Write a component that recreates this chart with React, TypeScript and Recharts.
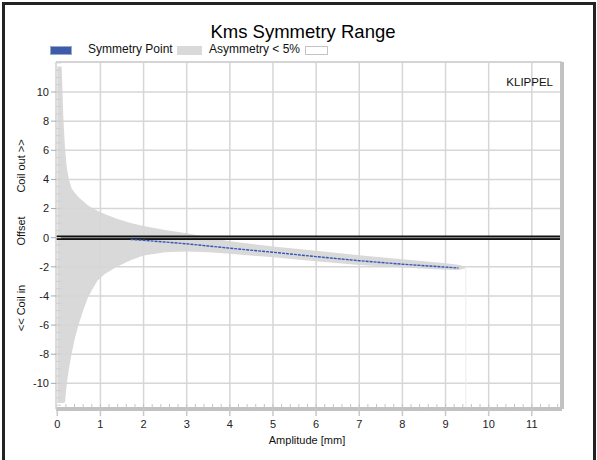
import React from 'react';
import {
  ComposedChart,
  Area,
  Line,
  XAxis,
  YAxis,
  ReferenceLine,
} from 'recharts';

// amplitude in mm
const amplitude = [0, 0.1, 0.12, 0.14, 0.18, 0.22, 0.27, 0.33, 0.4, 0.49, 0.6, 0.7, 0.8, 0.93, 1.1, 1.38, 1.7, 2.0, 2.5, 3.0, 3.5, 4, 5, 6, 7, 8, 9, 9.3, 9.45];
// asymmetry < 5% range, lower / upper offset in mm
const asymLow = [-11.35, -11.35, -11.35, -11.35, -11.3, -10.0, -9.0, -8.0, -7.0, -6.0, -5.0, -4.2, -3.6, -2.95, -2.5, -2.0, -1.55, -1.22, -1.0, -0.95, -1.0, -1.1, -1.35, -1.62, -1.87, -2.05, -2.2, -2.22, -2.12];
const asymHigh = [11.75, 11.75, 10.1, 8.2, 6.1, 4.8, 4.0, 3.4, 3.1, 2.8, 2.5, 2.25, 2.05, 1.85, 1.62, 1.3, 1.0, 0.8, 0.52, 0.3, 0.03, -0.25, -0.6, -0.9, -1.2, -1.48, -1.75, -1.85, -1.98];
// symmetry point offset in mm
const symmetryPoint = [null, null, null, null, null, null, null, null, null, null, null, null, null, null, null, null, -0.12, -0.18, -0.3, -0.42, -0.57, -0.72, -1.0, -1.3, -1.58, -1.82, -2.02, -2.08, null];

const xTicks = [0, 1, 2, 3, 4, 5, 6, 7, 8, 9, 10, 11];
const yTicks = [-10, -8, -6, -4, -2, 0, 2, 4, 6, 8, 10];
const xDomain: [number, number] = [-0.03, 11.7];
const yDomain: [number, number] = [-11.76, 12.06];
const bandEnd = 9.47;

const xMinor: number[] = [];
for (let i = 1; i < 59; i++) xMinor.push(Math.round(i * 0.2 * 10) / 10);
const yMinor: number[] = [];
for (let i = -23; i <= 24; i++) yMinor.push(i * 0.5);

const data = amplitude.map((a, i) => ({
  amp: a,
  band: [asymLow[i], asymHigh[i]],
  sym: symmetryPoint[i],
}));

const FONT = 'Arial, "Liberation Sans", sans-serif';
const GRID = '#d6d6d6';

export default function App() {
  return (
    <div style={{ position: 'absolute', left: 0, top: 0, width: 597, height: 460, background: '#fff', overflow: 'hidden', fontFamily: FONT }}>
      <div style={{ position: 'absolute', left: 2, top: 2, width: 594, height: 480, border: '3px solid #222', boxSizing: 'border-box' }} />
      <div style={{ position: 'absolute', left: 0, width: 606, top: 21, textAlign: 'center', fontSize: 18.5, color: '#000' }}>
        Kms Symmetry Range
      </div>
      {/* legend */}
      <div style={{ position: 'absolute', left: 50, top: 46, width: 22, height: 9, background: '#3d5ba9', border: '1px solid #9aa8cc', boxSizing: 'border-box' }} />
      <div style={{ position: 'absolute', left: 88, top: 42, fontSize: 12, color: '#111' }}>Symmetry Point</div>
      <div style={{ position: 'absolute', left: 177, top: 46, width: 25, height: 9, background: '#d9d9d9' }} />
      <div style={{ position: 'absolute', left: 209, top: 42, fontSize: 12, color: '#111' }}>Asymmetry &lt; 5%</div>
      <div style={{ position: 'absolute', left: 305, top: 46, width: 23, height: 9, background: '#fff', border: '1px solid #c4c4c4', boxSizing: 'border-box' }} />

      <div style={{ position: 'absolute', left: 0, top: 0 }}>
        <ComposedChart
          width={597}
          height={460}
          data={data}
          margin={{ top: 62, right: 35, bottom: 21, left: 16 }}
          style={{ fontFamily: FONT }}
        >
          <XAxis
            dataKey="amp"
            type="number"
            domain={xDomain}
            ticks={xTicks}
            allowDataOverflow
            height={30}
            interval={0}
            axisLine={{ stroke: '#c2c2c2', strokeWidth: 4 }}
            tickLine={{ stroke: '#c8c8c8', strokeWidth: 1.5 }}
            tickSize={7}
            tickMargin={4}
            tick={{ fontSize: 11, fill: '#222' }}
          />
          <XAxis
            xAxisId="minor"
            dataKey="amp"
            type="number"
            domain={xDomain}
            ticks={xMinor}
            allowDataOverflow
            mirror
            interval={0}
            axisLine={false}
            tickLine={{ stroke: '#c4c4c4' }}
            tickSize={5}
            tickFormatter={() => ''}
          />
          <XAxis
            xAxisId="top"
            orientation="top"
            dataKey="amp"
            type="number"
            domain={xDomain}
            allowDataOverflow
            mirror
            tick={false}
            tickLine={false}
            axisLine={{ stroke: '#d4d4d4', strokeWidth: 2 }}
          />
          <YAxis
            type="number"
            domain={yDomain}
            ticks={yTicks}
            allowDataOverflow
            width={40}
            interval={0}
            axisLine={{ stroke: '#d0d0d0', strokeWidth: 1.5 }}
            tickLine={{ stroke: '#aaa' }}
            tickSize={5}
            tickMargin={2}
            tick={{ fontSize: 11, fill: '#222' }}
          />
          <YAxis
            yAxisId="minor"
            type="number"
            domain={yDomain}
            ticks={yMinor}
            allowDataOverflow
            mirror
            interval={0}
            axisLine={false}
            tickLine={{ stroke: '#cfcfcf' }}
            tickSize={5}
            tickFormatter={() => ''}
          />
          <YAxis
            yAxisId="right"
            orientation="right"
            type="number"
            domain={yDomain}
            allowDataOverflow
            mirror
            tick={false}
            tickLine={false}
            axisLine={{ stroke: '#c2c2c2', strokeWidth: 4 }}
          />
          <Area
            dataKey="band"
            type="linear"
            fill="#d9d9d9"
            fillOpacity={1}
            stroke="none"
            isAnimationActive={false}
            dot={false}
            activeDot={false}
          />
          {xTicks.slice(1).map((t) => (
            <ReferenceLine key={'gx' + t} x={t} stroke={GRID} strokeWidth={1.5} />
          ))}
          {yTicks.map((t) => (
            <ReferenceLine key={'gy' + t} y={t} stroke={GRID} strokeWidth={1.5} />
          ))}
          <ReferenceLine
            segment={[{ x: bandEnd, y: -2.1 }, { x: bandEnd, y: yDomain[0] }]}
            stroke="#ececec"
            strokeWidth={1}
          />
          <ReferenceLine y={0} stroke="#111" strokeWidth={4.5} />
          <ReferenceLine y={0} stroke="#9a9a9a" strokeWidth={1} />
          <Line
            dataKey="sym"
            type="linear"
            stroke="#3456b8"
            strokeWidth={1.4}
            strokeDasharray="3 1"
            dot={false}
            activeDot={false}
            isAnimationActive={false}
          />
        </ComposedChart>
      </div>

      <svg width={597} height={460} style={{ position: 'absolute', left: 0, top: 0, pointerEvents: 'none' }}>
        <g fontFamily={FONT} fontSize={11} fill="#111">
          <text x={553} y={86} textAnchor="end" fontSize={11.5}>KLIPPEL</text>
          <text x={307} y={444} textAnchor="middle">Amplitude [mm]</text>
          <text transform="translate(25,166) rotate(-90)" textAnchor="middle">Coil out &gt;&gt;</text>
          <text transform="translate(25,231) rotate(-90)" textAnchor="middle">Offset</text>
          <text transform="translate(25,308) rotate(-90)" textAnchor="middle">&lt;&lt; Coil in</text>
        </g>
      </svg>
    </div>
  );
}
